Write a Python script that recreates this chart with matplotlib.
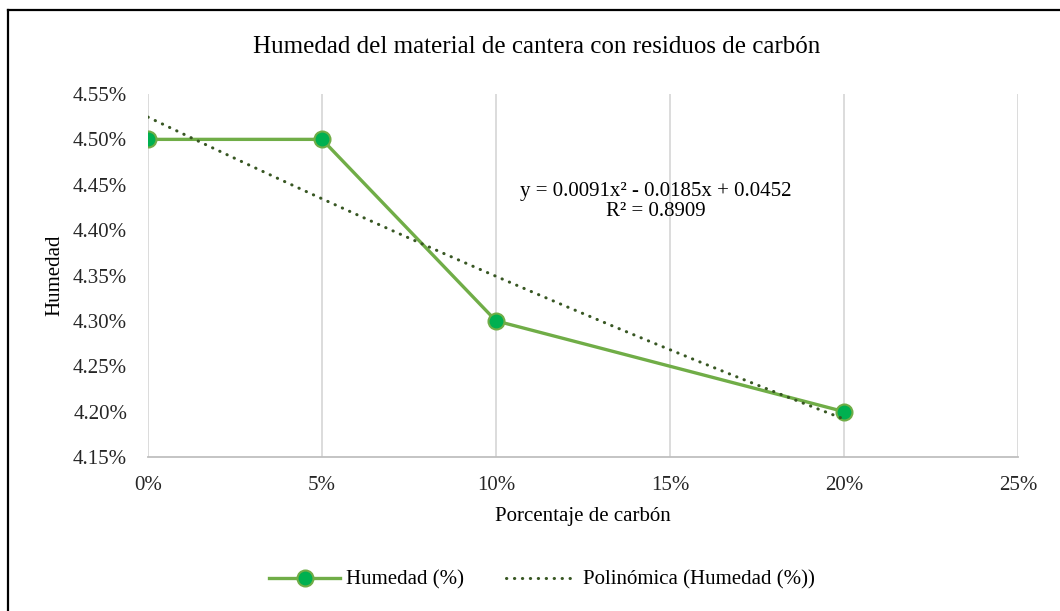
import numpy as np
import matplotlib
matplotlib.use("Agg")
from matplotlib import pyplot as plt
from matplotlib.lines import Line2D
from matplotlib.ticker import PercentFormatter

plt.rcParams["font.family"] = ["Liberation Serif", "DejaVu Serif"]

# data
carbon = [0.00, 0.05, 0.10, 0.20]
humedad = [0.045, 0.045, 0.043, 0.042]
x_ticks = [0.00, 0.05, 0.10, 0.15, 0.20, 0.25]
y_ticks = [0.0415, 0.0420, 0.0425, 0.0430, 0.0435, 0.0440, 0.0445, 0.0450, 0.0455]
title = "Humedad del material de cantera con residuos de carbón"
eq_text = "y = 0.0091x² - 0.0185x + 0.0452\nR² = 0.8909"

# polynomial trendline (order 2), like excel does
coef = np.polyfit(carbon, humedad, 2)
xt = np.linspace(min(carbon), max(carbon), 200)
yt = np.polyval(coef, xt)

fig = plt.figure(figsize=(10.6, 6.11), dpi=100)
ax = fig.add_axes([148 / 1060, 1 - 457 / 611, 870 / 1060, 363 / 611])

ax.plot(carbon, humedad, color="#70AD47", lw=2.4, marker="o", ms=11.5,
        mfc="#00B050", mec="#70AD47", mew=1.5, label="Humedad (%)", zorder=3)
ax.plot(xt, yt, color="#385723", lw=2.2, linestyle=(0, (0.1, 2.5)),
        dash_capstyle="round", label="Polinómica (Humedad (%))", zorder=4)

ax.set_xlim(0, 0.25)
ax.set_ylim(0.0415, 0.0455)
ax.set_xticks(x_ticks)
ax.set_yticks(y_ticks)
ax.xaxis.set_major_formatter(PercentFormatter(1.0, decimals=0))
ax.yaxis.set_major_formatter(PercentFormatter(1.0, decimals=2))
ax.tick_params(length=0, labelsize=15, colors="#262626")
ax.tick_params(axis="y", pad=15)
ax.tick_params(axis="x", pad=14)

ax.grid(axis="x", color="#D9D9D9", lw=1.3)
for s in ["left", "right", "top"]:
    ax.spines[s].set_visible(False)
ax.spines["bottom"].set_color("#BFBFBF")
ax.spines["bottom"].set_linewidth(1.3)

# axis titles
fig.text(583 / 1060, 1 - 517 / 611, "Porcentaje de carbón", fontsize=15,
         ha="center", va="center")
fig.text(55 / 1060, 1 - 275 / 611, "Humedad", fontsize=15, rotation=90,
         ha="center", va="center")

ax.text(0.146, 0.044315, eq_text, ha="center", va="center", fontsize=15,
        linespacing=1.12)

fig.text(537 / 1060, 1 - 47 / 611, title, ha="center", va="center", fontsize=18)

fig.legend(loc="center", bbox_to_anchor=(542 / 1060, 1 - 580 / 611), ncol=2,
           frameon=False, fontsize=15, handlelength=3.4, handletextpad=0.3,
           columnspacing=2.0)

# black frame (only left & top visible in the crop)
fig.add_artist(Line2D([8 / 1060, 8 / 1060], [0, 1 - 10 / 611],
                      transform=fig.transFigure, color="black", lw=1.6))
fig.add_artist(Line2D([8 / 1060, 1], [1 - 10 / 611, 1 - 10 / 611],
                      transform=fig.transFigure, color="black", lw=1.6))

plt.savefig("out.png", dpi=100)
